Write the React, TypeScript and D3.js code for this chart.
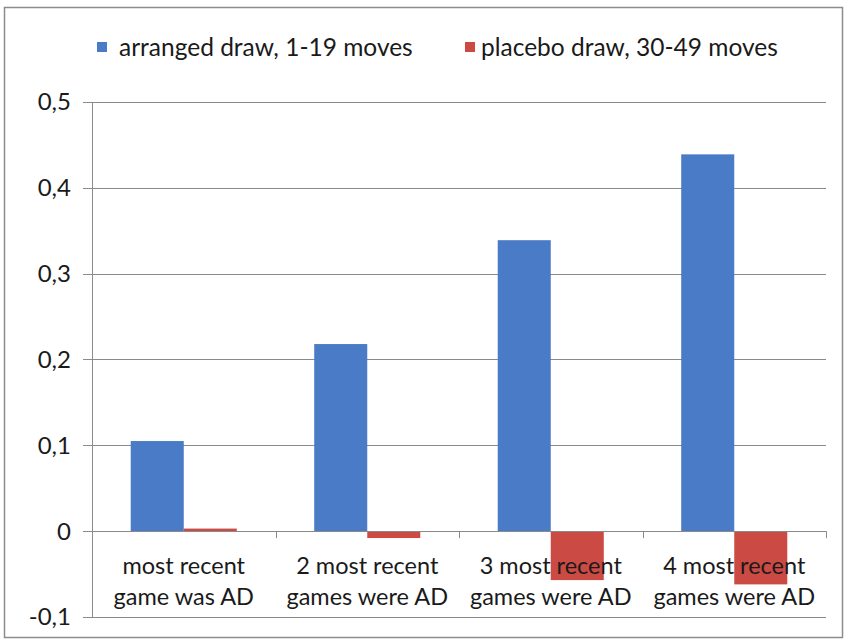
import React from "react";
import * as d3 from "d3";

const categories = [
  ["most recent", "game was AD"],
  ["2 most recent", "games were AD"],
  ["3 most recent", "games were AD"],
  ["4 most recent", "games were AD"],
];
const seriesNames = ["arranged draw, 1-19 moves", "placebo draw, 30-49 moves"];
const arrangedValues = [0.105, 0.218, 0.339, 0.439];
const placeboValues = [0.003, -0.008, -0.057, -0.062];
const yTicks = [-0.1, 0, 0.1, 0.2, 0.3, 0.4, 0.5];
const colors = ["#4A7BC6", "#CC4A44"];

const W = 848;
const H = 644;
const left = 92;
const right = 826;
const top = 102;
const bottom = 617;
const font = "Lato, 'Open Sans', sans-serif";

export default function App() {
  const x = d3.scaleBand<number>().domain(d3.range(categories.length)).range([left, right]).paddingInner(0).paddingOuter(0);
  const y = d3.scaleLinear().domain([-0.1, 0.5]).range([bottom, top]);
  const groupFrac = 0.578;
  const bw = (x.bandwidth() * groupFrac) / 2;
  const series = [arrangedValues, placeboValues];
  const fmt = (v: number) => (Math.abs(v) < 1e-9 ? "0" : d3.format(".1f")(v).replace(".", ",").replace("\u2212", "-"));

  return (
    <svg width={W} height={H} style={{ position: "absolute", left: 0, top: 0, background: "#fff" }}>
      <rect x={4.5} y={7.5} width={838} height={630} fill="#fff" stroke="#8c8c8c" strokeWidth={1.5} />
      {/* gridlines */}
      {yTicks.map((t) => (
        <g key={t}>
          <line x1={left - 9} x2={right} y1={Math.round(y(t)) + 0.5} y2={Math.round(y(t)) + 0.5} stroke="#8a8a8a" strokeWidth={1} />
          <text x={71} y={y(t)} dy="0.35em" textAnchor="end" fontFamily={font} fontSize={24} fill="#1a1a1a">
            {fmt(t)}
          </text>
        </g>
      ))}
      {/* bars */}
      {series.map((vals, si) =>
        vals.map((v, i) => {
          const cx = (x(i) as number) + x.bandwidth() / 2;
          const x0 = cx - bw + si * bw;
          const y0 = Math.min(y(v), y(0));
          const h = Math.abs(y(v) - y(0));
          return <rect key={`${si}-${i}`} x={x0} y={y0} width={bw} height={Math.max(h, 1)} fill={colors[si]} />;
        })
      )}
      {/* axes */}
      <line x1={left + 0.5} x2={left + 0.5} y1={top} y2={bottom} stroke="#8a8a8a" />
      <line x1={left} x2={right} y1={Math.round(y(0)) + 0.5} y2={Math.round(y(0)) + 0.5} stroke="#8a8a8a" />
      {d3.range(categories.length + 1).map((i) => {
        const xx = Math.round(left + i * x.bandwidth()) + 0.5;
        return <line key={i} x1={xx} x2={xx} y1={y(0)} y2={y(0) + 7} stroke="#8a8a8a" />;
      })}
      {categories.map((lines, i) => {
        const cx = (x(i) as number) + x.bandwidth() / 2;
        return (
          <text key={i} x={cx} textAnchor="middle" fontFamily={font} fontSize={23.5} fill="#1a1a1a">
            <tspan x={cx} y={574}>{lines[0]}</tspan>
            <tspan x={cx} y={605}>{lines[1]}</tspan>
          </text>
        );
      })}
      {/* legend */}
      {[{ sx: 97, tx: 119 }, { sx: 465, tx: 481 }].map((p, i) => (
        <g key={i}>
          <rect x={p.sx} y={42} width={10} height={10} fill={colors[i]} />
          <text x={p.tx} y={47} dy="0.35em" fontFamily={font} fontSize={24.5} fill="#1a1a1a">
            {seriesNames[i]}
          </text>
        </g>
      ))}
    </svg>
  );
}
